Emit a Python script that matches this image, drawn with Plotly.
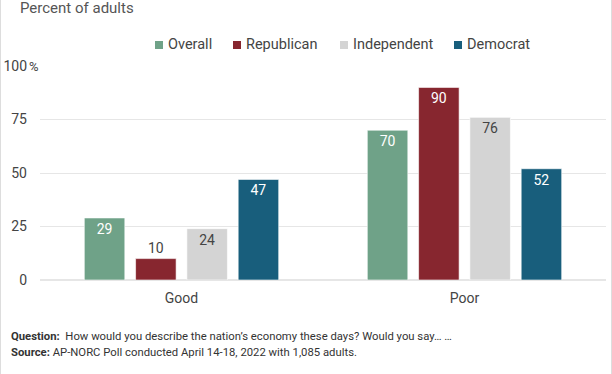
import plotly.graph_objects as go

categories = ["Good", "Poor"]
series_names = ["Overall", "Republican", "Independent", "Democrat"]
overall = [29, 70]
republican = [10, 90]
independent = [24, 76]
democrat = [47, 52]
tick_vals = [0, 25, 50, 75, 100]
tick_text = ["0", "25", "50", "75", "100"]

values = [overall, republican, independent, democrat]
colors = ["#6FA288", "#87262F", "#D4D4D4", "#185E7C"]
text_colors = ["white", "white", "#444444", "white"]
legend_marker_px = [155, 233, 340, 454]

W, H = 612, 374
L, R, T, B = 40, 6, 66, 94
pw, ph = W - L - R, H - T - B

def px_x(p):
    return (p - L) / pw

def px_y(p):
    return (H - B - p) / ph

fig = go.Figure()
for name, vals, c, tc in zip(series_names, values, colors, text_colors):
    positions = ["inside" if v >= 15 else "outside" for v in vals]
    fig.add_trace(go.Bar(
        x=categories, y=vals, name=name,
        marker=dict(color=c, line=dict(color="rgba(255,255,255,0.6)", width=1)),
        text=[str(v) for v in vals], textposition=positions,
        insidetextanchor="end",
        insidetextfont=dict(color=tc, size=14, family="Roboto"),
        outsidetextfont=dict(color="#444444", size=14, family="Roboto"),
        textangle=0, cliponaxis=False, showlegend=False,
    ))

fig.update_layout(
    width=W, height=H,
    margin=dict(l=L, r=R, t=T, b=B, autoexpand=False),
    paper_bgcolor="white", plot_bgcolor="white",
    barmode="group", bargap=0.275, bargroupgap=0.21,
    font=dict(family="Roboto", color="#444444", size=13),
    showlegend=False,
    xaxis=dict(showgrid=False, showline=False, ticks="", automargin=False,
               tickfont=dict(size=14, color="#444444"), ticklabelstandoff=8),
    yaxis=dict(range=[0, 100], tickvals=tick_vals, ticktext=tick_text, showgrid=True,
               automargin=False,
               gridcolor="#E6E6E6", gridwidth=1, zeroline=True, zerolinecolor="#E6E6E6",
               tickfont=dict(size=14, color="#444444"), ticklabelstandoff=12),
)

# legend (manual, to match spacing)
for name, c, mx in zip(series_names, colors, legend_marker_px):
    fig.add_shape(type="rect", xref="paper", yref="paper",
                  x0=px_x(mx), x1=px_x(mx + 8), y0=px_y(49), y1=px_y(41),
                  fillcolor=c, line=dict(width=0))
    fig.add_annotation(x=px_x(mx + 11), y=px_y(45), xref="paper", yref="paper", text=name,
                       showarrow=False, xanchor="left", yanchor="middle",
                       font=dict(size=14.5, color="#444444"))

fig.add_annotation(x=px_x(27), y=100, xref="paper", yref="y", text="%", showarrow=False,
                   xanchor="left", yanchor="middle", font=dict(size=13, color="#444444"))
fig.add_annotation(x=px_x(18), y=px_y(8), xref="paper", yref="paper", text="Percent of adults",
                   showarrow=False, xanchor="left", yanchor="middle", font=dict(size=15, color="#555555"))
fig.add_annotation(x=px_x(9), y=px_y(337), xref="paper", yref="paper",
                   text="<b>Question:</b>  How would you describe the nation\u2019s economy these days? Would you say\u2026 \u2026",
                   showarrow=False, xanchor="left", yanchor="middle", font=dict(size=11.3, color="#333333"))
fig.add_annotation(x=px_x(9), y=px_y(352), xref="paper", yref="paper",
                   text="<b>Source:</b> AP-NORC Poll conducted April 14-18, 2022 with 1,085 adults.",
                   showarrow=False, xanchor="left", yanchor="middle", font=dict(size=11.3, color="#333333"))

for xp in [0.5, W - 0.5]:
    fig.add_shape(type="line", xref="paper", yref="paper", x0=px_x(xp), x1=px_x(xp),
                  y0=px_y(0), y1=px_y(H), line=dict(color="#DDDDDD", width=1))

fig.write_html("out.html", config={"displayModeBar": False},
               post_script="document.body.style.margin='0';document.body.style.padding='0';")
